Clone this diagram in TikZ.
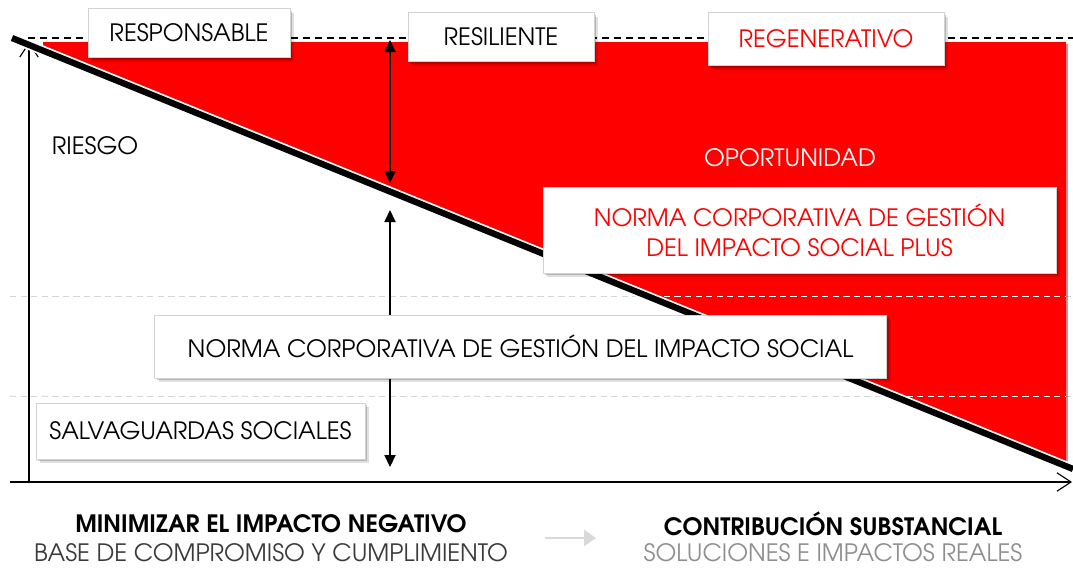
\documentclass[tikz,border=0pt]{standalone}
\usepackage{fontspec}
\setmainfont{texgyreadventor-regular.otf}[BoldFont=texgyreadventor-bold.otf]
\usepackage{tikz}
\usetikzlibrary{positioning, arrows.meta, shadows}
\definecolor{signalred}{HTML}{FF0000}
\definecolor{boxline}{HTML}{D2D2D2}
\definecolor{gridgray}{HTML}{D6D6D6}
\definecolor{darktext}{HTML}{3A3A3A}
\definecolor{lighttext}{HTML}{8E8E8E}
\definecolor{flowgray}{HTML}{D9D9D9}

\begin{document}
\begin{tikzpicture}[
    x=0.025cm, y=-0.025cm,
    tagbox/.style={draw=boxline, line width=0.6pt, fill=white, align=center, inner sep=0pt,
        drop shadow={shadow xshift=1.1mm, shadow yshift=-1.1mm, opacity=0.12, fill=black},
        drop shadow={shadow xshift=0.6mm, shadow yshift=-0.6mm, opacity=0.2, fill=black}},
    axis/.style={line width=0.8pt, -{Straight Barb[length=3.5mm, width=4.6mm]}},
    span/.style={line width=0.8pt, {Triangle[length=3mm, width=2.8mm]}-{Triangle[length=3mm, width=2.8mm]}},
    guide/.style={line width=0.7pt, dash pattern=on 4.5pt off 3pt},
    every node/.style={font=\fontsize{17}{21.5}\selectfont}
]
\useasboundingbox (0,0) rectangle (1073,568);

% Guide lines
\draw[guide, gridgray] (10,296) -- (1073,296);
\draw[guide, gridgray] (10,396) -- (1073,396);
\draw[black, line width=1pt, dash pattern=on 5pt off 3.5pt] (28,38) -- (1073,38);

% Opportunity area
\fill[signalred, drop shadow={shadow xshift=0.5mm, shadow yshift=-0.5mm, opacity=0.35, fill=black}]
    (43,42) -- (1066,42) -- (1066,465) -- (43,50.6) -- cycle;
\begin{scope}
    \clip (43,42) -- (1066,42) -- (1066,465) -- (43,50.6) -- cycle;
    \draw[guide, white] (10,296) -- (1073,296);
    \draw[guide, white] (10,396) -- (1073,396);
\end{scope}

% Axes
\coordinate (origin) at (29,482);
\coordinate (ytop) at (29,42);
\coordinate (xleft) at (10,482);
\coordinate (xright) at (1072,482);
\draw[axis] (origin) -- (ytop);
\draw[axis] (xleft) -- (xright);

% Diagonal
\coordinate (dstart) at (12,38);
\coordinate (dend) at (1073,469);
\draw[white, line width=7pt] (dstart) -- (dend);
\draw[black, line width=4.5pt] (dstart) -- (dend);

% Spans
\coordinate (gapTop) at (390,40);
\coordinate (gapBot) at (390,183);
\coordinate (baseTop) at (390,210);
\coordinate (baseBot) at (390,467);
\draw[span] (gapTop) -- (gapBot);
\draw[span] (baseTop) -- (baseBot);

% Levels
\node[tagbox, minimum width=5.05cm, minimum height=1.225cm] (resp) at (189,33) {RESPONSABLE};
\node[tagbox, minimum width=4.65cm, minimum height=1.225cm] (resil) at (501,37) {RESILIENTE};
\node[tagbox, text=signalred, minimum width=5.9cm, minimum height=1.325cm] (regen) at (826,39) {REGENERATIVO};

% Area labels
\node (risk) at (95,146) {RIESGO};
\node[text=white] (chance) at (790,158) {OPORTUNIDAD};

% Standards
\node[tagbox, text=signalred, minimum width=12.825cm, minimum height=2.15cm] (plus) at (799.5,230)
    {NORMA CORPORATIVA DE GESTIÓN\\DEL IMPACTO SOCIAL PLUS};
\node[tagbox, minimum width=18.275cm, minimum height=1.575cm] (norma) at (520.5,346.5)
    {NORMA CORPORATIVA DE GESTIÓN DEL IMPACTO SOCIAL};
\node[tagbox, minimum width=8.225cm, minimum height=1.4cm] (safe) at (200.5,431)
    {SALVAGUARDAS SOCIALES};

% Bottom captions
\node[font=\fontsize{17}{20}\selectfont\bfseries] (minim) at (271,524) {MINIMIZAR EL IMPACTO NEGATIVO};
\node[text=darktext] (base) at (271,553) {BASE DE COMPROMISO Y CUMPLIMIENTO};
\node[font=\fontsize{17}{20}\selectfont\bfseries] (contrib) at (833,524) {CONTRIBUCIÓN SUBSTANCIAL};
\node[text=lighttext] (solut) at (833,553) {SOLUCIONES E IMPACTOS REALES};
\coordinate (flowA) at (545,538);
\coordinate (flowB) at (596,538);
\draw[flowgray, line width=0.7mm, -{Triangle[length=3mm, width=4mm]}] (flowA) -- (flowB);

\end{tikzpicture}
\end{document}
